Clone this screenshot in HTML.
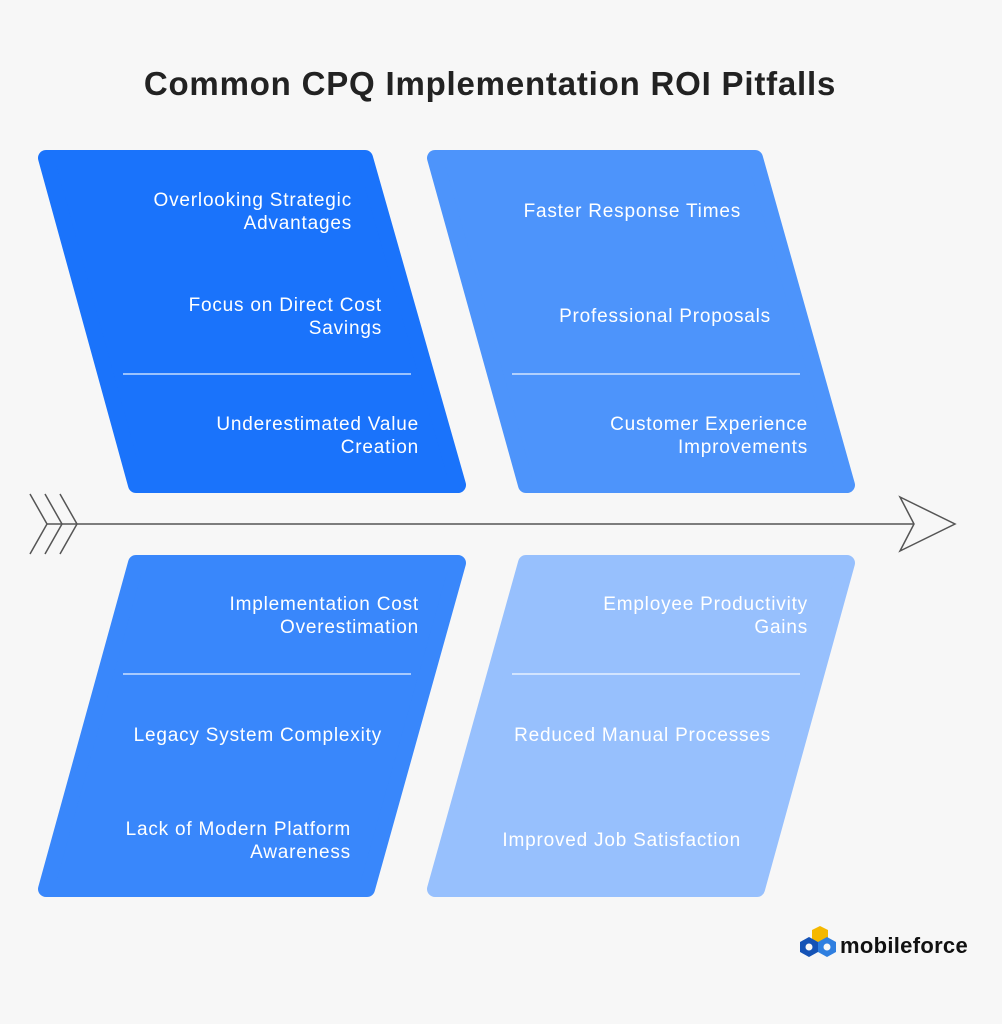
<!DOCTYPE html>
<html><head><meta charset="utf-8"><style>
html,body{margin:0;padding:0;background:#f7f7f7;}
svg{display:block;}
text{font-family:"Liberation Sans",sans-serif;}
.t{fill:#fff;font-size:19px;text-anchor:end;letter-spacing:0.8px;}
</style></head><body>
<svg width="1002" height="1024" viewBox="0 0 1002 1024">
<rect width="1002" height="1024" fill="#f7f7f7"/>
<text x="490" y="95" text-anchor="middle" font-size="33" font-weight="bold" fill="#222" letter-spacing="0.8">Common CPQ Implementation ROI Pitfalls</text>
<g stroke-linejoin="round" stroke-width="16">
<polygon points="46,158 365,158 458,485 136,485" fill="#1a73fb" stroke="#1a73fb"/>
<polygon points="435,158 755,158 847,485 526,485" fill="#4d94fb" stroke="#4d94fb"/>
<polygon points="136,563 458,563 367,889 46,889" fill="#3987fb" stroke="#3987fb"/>
<polygon points="526,563 847,563 757,889 435,889" fill="#97c0fd" stroke="#97c0fd"/>
</g>
<g stroke="#fff" stroke-width="1.2" opacity="0.9">
<line x1="123" y1="374" x2="411" y2="374"/>
<line x1="512" y1="374" x2="800" y2="374"/>
<line x1="123" y1="674" x2="411" y2="674"/>
<line x1="512" y1="674" x2="800" y2="674"/>
</g>
<text class="t" x="352" y="206">Overlooking Strategic</text>
<text class="t" x="352" y="229">Advantages</text>
<text class="t" x="382" y="311">Focus on Direct Cost</text>
<text class="t" x="382" y="334">Savings</text>
<text class="t" x="419" y="430">Underestimated Value</text>
<text class="t" x="419" y="453">Creation</text>
<text class="t" x="741" y="217">Faster Response Times</text>
<text class="t" x="771" y="322">Professional Proposals</text>
<text class="t" x="808" y="430">Customer Experience</text>
<text class="t" x="808" y="453">Improvements</text>
<text class="t" x="419" y="610">Implementation Cost</text>
<text class="t" x="419" y="633">Overestimation</text>
<text class="t" x="382" y="741">Legacy System Complexity</text>
<text class="t" x="351" y="835">Lack of Modern Platform</text>
<text class="t" x="351" y="858">Awareness</text>
<text class="t" x="808" y="610">Employee Productivity</text>
<text class="t" x="808" y="633">Gains</text>
<text class="t" x="771" y="741">Reduced Manual Processes</text>
<text class="t" x="741" y="846">Improved Job Satisfaction</text>
<g stroke="#555" stroke-width="1.5" fill="none">
<line x1="47" y1="524" x2="954" y2="524"/>
<polyline points="30,494 47,524 30,554"/>
<polyline points="45,494 62,524 45,554"/>
<polyline points="60,494 77,524 60,554"/>
<polygon points="900,497 955,524 900,551 914,524" fill="#f7f7f7"/>
</g>
<g>
<path d="M812,930 l8,-4 l8,4 v9 l-8,4 l-8,-4z" fill="#f5b800"/>
<path d="M800,942 l9,-5 l9,5 v10 l-9,5 l-9,-5z" fill="#1553b6"/>
<path d="M818,942 l9,-5 l9,5 v10 l-9,5 l-9,-5z" fill="#2f7fe0"/>
<circle cx="809" cy="947" r="3.5" fill="#f7f7f7"/><circle cx="827" cy="947" r="3.5" fill="#f7f7f7"/>
<text x="840" y="953" font-size="22" font-weight="bold" fill="#111" letter-spacing="0.3">mobileforce</text>
</g>
</svg>
</body></html>
